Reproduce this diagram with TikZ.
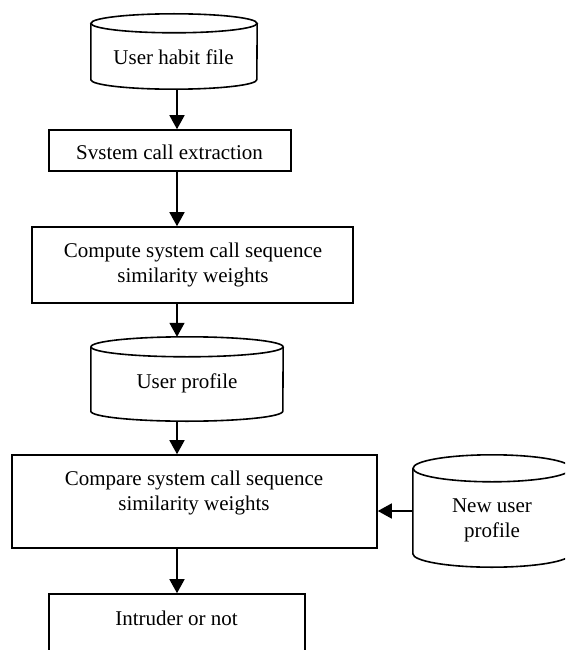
\documentclass[tikz,border=0pt]{standalone}
\usepackage{fontspec}
\setmainfont{Liberation Serif}
\usetikzlibrary{arrows.meta}
\newcommand\cylout[3]{%
  \draw[outl] ([yshift=-#3]#1.north) ellipse [x radius=#2, y radius=#3];
  \draw[outl] ([yshift=-#3]#1.north west) -- ([yshift=#3]#1.south west)
    arc[start angle=180, end angle=360, x radius=#2, y radius=#3]
    -- ([yshift=-#3]#1.north east);
}
\begin{document}
\begin{tikzpicture}[x=1pt,y=1pt,
  outl/.style={line width=1.6pt},
  boxn/.style={draw, line width=1.6pt, inner sep=0pt},
  cylbox/.style={draw=none, inner sep=0pt},
  txt/.style={font=\fontsize{21}{25}\selectfont, inner sep=0pt, align=center},
  arr/.style={line width=1.6pt, -{Triangle[length=14pt,width=15pt]}}]
\useasboundingbox (0,0) rectangle (565,-650);
\clip (0,0) rectangle (565,-650);
\fill[white] (0,0) rectangle (565,-650);
\coordinate (ax) at (177,0);
% nodes
\node[cylbox, minimum width=166pt, minimum height=75pt] (c1) at (174,-51.5) {};
\node[boxn, minimum width=242pt, minimum height=41pt] (b1) at (170,-150.5) {};
\node[boxn, minimum width=321pt, minimum height=76pt] (b2) at (192.5,-265) {};
\node[cylbox, minimum width=192pt, minimum height=84pt] (c2) at (187,-379) {};
\node[boxn, minimum width=365pt, minimum height=93pt] (b3) at (194.5,-501.5) {};
\node[boxn, minimum width=256pt, minimum height=70pt] (b4) at (177,-629) {};
\node[cylbox, minimum width=158pt, minimum height=112pt] (c3) at (492,-511) {};
% cylinder outlines
\cylout{c1}{83pt}{9.5pt}
\cylout{c2}{96pt}{10pt}
\cylout{c3}{79pt}{13.5pt}
% texts
\node[txt, anchor=base] (t1) at (173.5,-65) {User habit file};
\node[txt, anchor=base] (t2) at (169.5,-159) {Svstem call extraction};
\node[txt, anchor=base] (t3) at (193,-282) {Compute system call sequence\\similarity weights};
\node[txt, anchor=base] (t4) at (187,-388) {User profile};
\node[txt, anchor=base] (t5) at (194,-510) {Compare system call sequence\\similarity weights};
\node[txt, anchor=base] (t6) at (176.5,-625) {Intruder or not};
\node[txt, anchor=base] (t7) at (492,-537) {New user\\profile};
% connectors
\draw[arr] (c1.south -| ax) -- (b1.north -| ax);
\draw[arr] (b1.south -| ax) -- (b2.north -| ax);
\draw[arr] (b2.south -| ax) -- (c2.north -| ax);
\draw[arr] (c2.south -| ax) -- (b3.north -| ax);
\draw[arr] (b3.south -| ax) -- (b4.north -| ax);
\draw[arr] (c3.west) -- (c3.west -| b3.east);
\end{tikzpicture}
\end{document}
